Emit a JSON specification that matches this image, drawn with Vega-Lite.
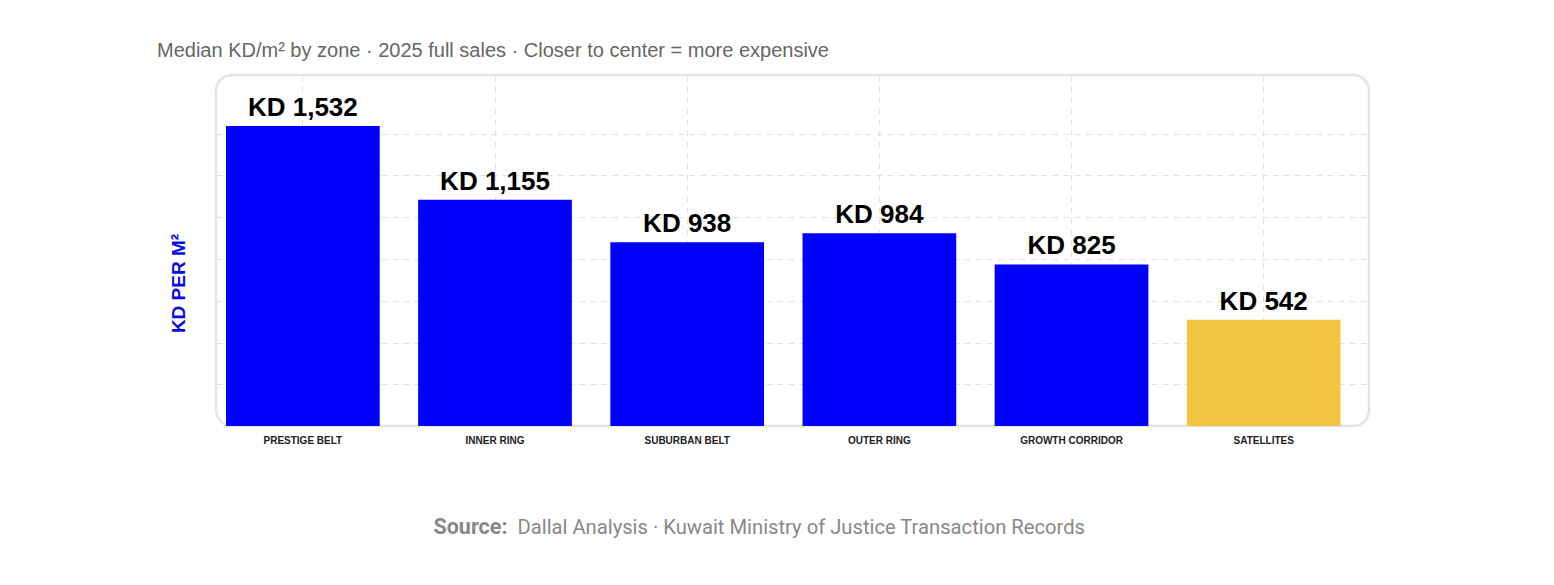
{
  "$schema": "https://vega.github.io/schema/vega-lite/v6.json",
  "autosize": {"type": "none"},
  "width": 1153,
  "height": 351,
  "padding": {"left": 216, "top": 75, "right": 185, "bottom": 159},
  "background": "white",
  "title": {
    "text": "Median KD/m² by zone · 2025 full sales · Closer to center = more expensive",
    "anchor": "start",
    "frame": "group",
    "dx": -59,
    "offset": -2,
    "baseline": "alphabetic",
    "font": "Liberation Sans",
    "fontSize": 20,
    "fontWeight": "normal",
    "color": "#666666"
  },
  "data": {
    "values": [
      {"zone": "PRESTIGE BELT", "kd": 1532, "label": "KD 1,532"},
      {"zone": "INNER RING", "kd": 1155, "label": "KD 1,155"},
      {"zone": "SUBURBAN BELT", "kd": 938, "label": "KD 938"},
      {"zone": "OUTER RING", "kd": 984, "label": "KD 984"},
      {"zone": "GROWTH CORRIDOR", "kd": 825, "label": "KD 825"},
      {"zone": "SATELLITES", "kd": 542, "label": "KD 542"}
    ]
  },
  "encoding": {
    "x": {
      "field": "zone",
      "type": "nominal",
      "sort": null,
      "scale": {"paddingInner": 0.2, "paddingOuter": 0.1, "align": 0.26}
    },
    "y": {
      "field": "kd",
      "type": "quantitative",
      "scale": {"domain": [0, 1792], "nice": false, "zero": true},
      "axis": {
        "title": "KD PER M²",
        "titleColor": "#0a0ae6",
        "titleFont": "Liberation Sans",
        "titleFontSize": 19,
        "titleFontWeight": "bold",
        "titleAngle": -90,
        "titleAlign": "center",
        "titleBaseline": "middle",
        "titleX": -38,
        "titleY": 208,
        "labels": false,
        "ticks": false,
        "domain": false,
        "grid": true,
        "gridColor": "#e2e2e2",
        "gridDash": [6, 5],
        "gridWidth": 1,
        "values": [213, 426, 640, 853, 1066, 1280, 1493]
      }
    }
  },
  "layer": [
    {
      "mark": {"type": "bar"},
      "encoding": {
        "x": {
          "field": "zone",
          "type": "nominal",
          "sort": null,
          "axis": {
            "orient": "bottom",
            "labelAngle": 0,
            "labelFont": "Liberation Sans",
            "labelFontSize": 10,
            "labelFontWeight": "bold",
            "labelColor": "#222222",
            "labelPadding": 9,
            "labelBaseline": "top",
            "ticks": false,
            "domain": false,
            "grid": true,
            "bandPosition": 0.5,
            "gridColor": "#e2e2e2",
            "gridDash": [6, 5],
            "gridWidth": 1,
            "title": "Source:",
            "titleFont": "Roboto",
            "titleFontSize": 21.5,
            "titleFontWeight": "bold",
            "titleColor": "#888888",
            "titleAnchor": "start",
            "titleAlign": "left",
            "titleBaseline": "alphabetic",
            "titleX": 217,
            "titleY": 107
          }
        },
        "color": {
          "condition": {"test": "datum.zone === 'SATELLITES'", "value": "#F1C542"},
          "value": "#0000FF"
        }
      }
    },
    {
      "mark": {
        "type": "text",
        "baseline": "alphabetic",
        "dy": -10,
        "font": "Liberation Sans",
        "fontSize": 26,
        "fontWeight": "bold",
        "color": "#000000"
      },
      "encoding": {
        "x": {
          "field": "zone",
          "type": "nominal",
          "sort": null,
          "axis": {
            "orient": "bottom",
            "labels": false,
            "ticks": false,
            "domain": false,
            "grid": false,
            "title": "Dallal Analysis · Kuwait Ministry of Justice Transaction Records",
            "titleFont": "Roboto",
            "titleFontSize": 20.2,
            "titleFontWeight": "normal",
            "titleColor": "#888888",
            "titleAnchor": "start",
            "titleAlign": "left",
            "titleBaseline": "alphabetic",
            "titleX": 301,
            "titleY": 107
          }
        },
        "text": {"field": "label"}
      }
    }
  ],
  "resolve": {"axis": {"x": "independent"}},
  "config": {
    "view": {"stroke": "#e4e4e4", "strokeWidth": 2.5, "cornerRadius": 16}
  }
}
